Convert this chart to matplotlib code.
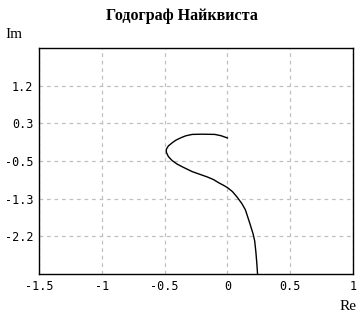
import numpy as np
import matplotlib
matplotlib.use('Agg')
import matplotlib.pyplot as plt

# Nyquist curve points (Re, Im)
re_pts = [0.0, -0.05, -0.10, -0.20, -0.28, -0.33, -0.37, -0.41, -0.44, -0.47, -0.487, -0.485,
          -0.47, -0.44, -0.40, -0.36, -0.28, -0.22, -0.16, -0.11, -0.07, -0.03, 0.0,
          0.04, 0.076, 0.115, 0.143, 0.18, 0.205, 0.217, 0.227, 0.234, 0.240]
im_pts = [0.02, 0.07, 0.10, 0.105, 0.10, 0.07, 0.025, -0.03, -0.09, -0.16, -0.24, -0.31,
          -0.40, -0.49, -0.57, -0.63, -0.74, -0.80, -0.86, -0.92, -0.99, -1.05, -1.10,
          -1.19, -1.31, -1.46, -1.60, -1.92, -2.15, -2.30, -2.56, -2.80, -3.05]

x_ticks = [-1.5, -1.0, -0.5, 0.0, 0.5, 1.0]
x_labels = ['-1.5', '-1', '-0.5', '0', '0.5', '1']
y_min, y_step = -3.05, 0.85
y_ticks = [y_min + k * y_step for k in range(1, 6)]
y_labels = ['-2.2', '-1.3', '-0.5', '0.3', '1.2']

fig = plt.figure(figsize=(3.63, 3.21), dpi=100)
ax = fig.add_axes([39 / 363, 1 - 274 / 321, 314 / 363, 226 / 321])
ax.plot(re_pts, im_pts, color='black', lw=1.0)

ax.set_xlim(-1.5, 1.0)
ax.set_ylim(y_min, y_min + 6 * y_step)
ax.set_xticks(x_ticks)
ax.set_xticklabels(x_labels)
ax.set_yticks(y_ticks)
ax.set_yticklabels(y_labels)
ax.tick_params(length=0, pad=4, labelsize=8.5)
for lab in ax.get_xticklabels() + ax.get_yticklabels():
    lab.set_family('DejaVu Sans Mono')
ax.grid(True, color='#c0c0c0', linestyle=(0, (3, 3)), lw=0.9)
for sp in ax.spines.values():
    sp.set_color('black')
    sp.set_linewidth(1.0)

fig.text(0.5, 1 - 16 / 321, 'Годограф Найквиста', ha='center', va='center',
         family='Liberation Serif', fontweight='bold', fontsize=11.5)
fig.text(5 / 363, 1 - 35 / 321, 'Im', ha='left', va='center',
         family='Liberation Serif', fontsize=11)
fig.text(357 / 363, 1 - 307 / 321, 'Re', ha='right', va='center',
         family='Liberation Serif', fontsize=11)

fig.savefig('out.png', dpi=100)
